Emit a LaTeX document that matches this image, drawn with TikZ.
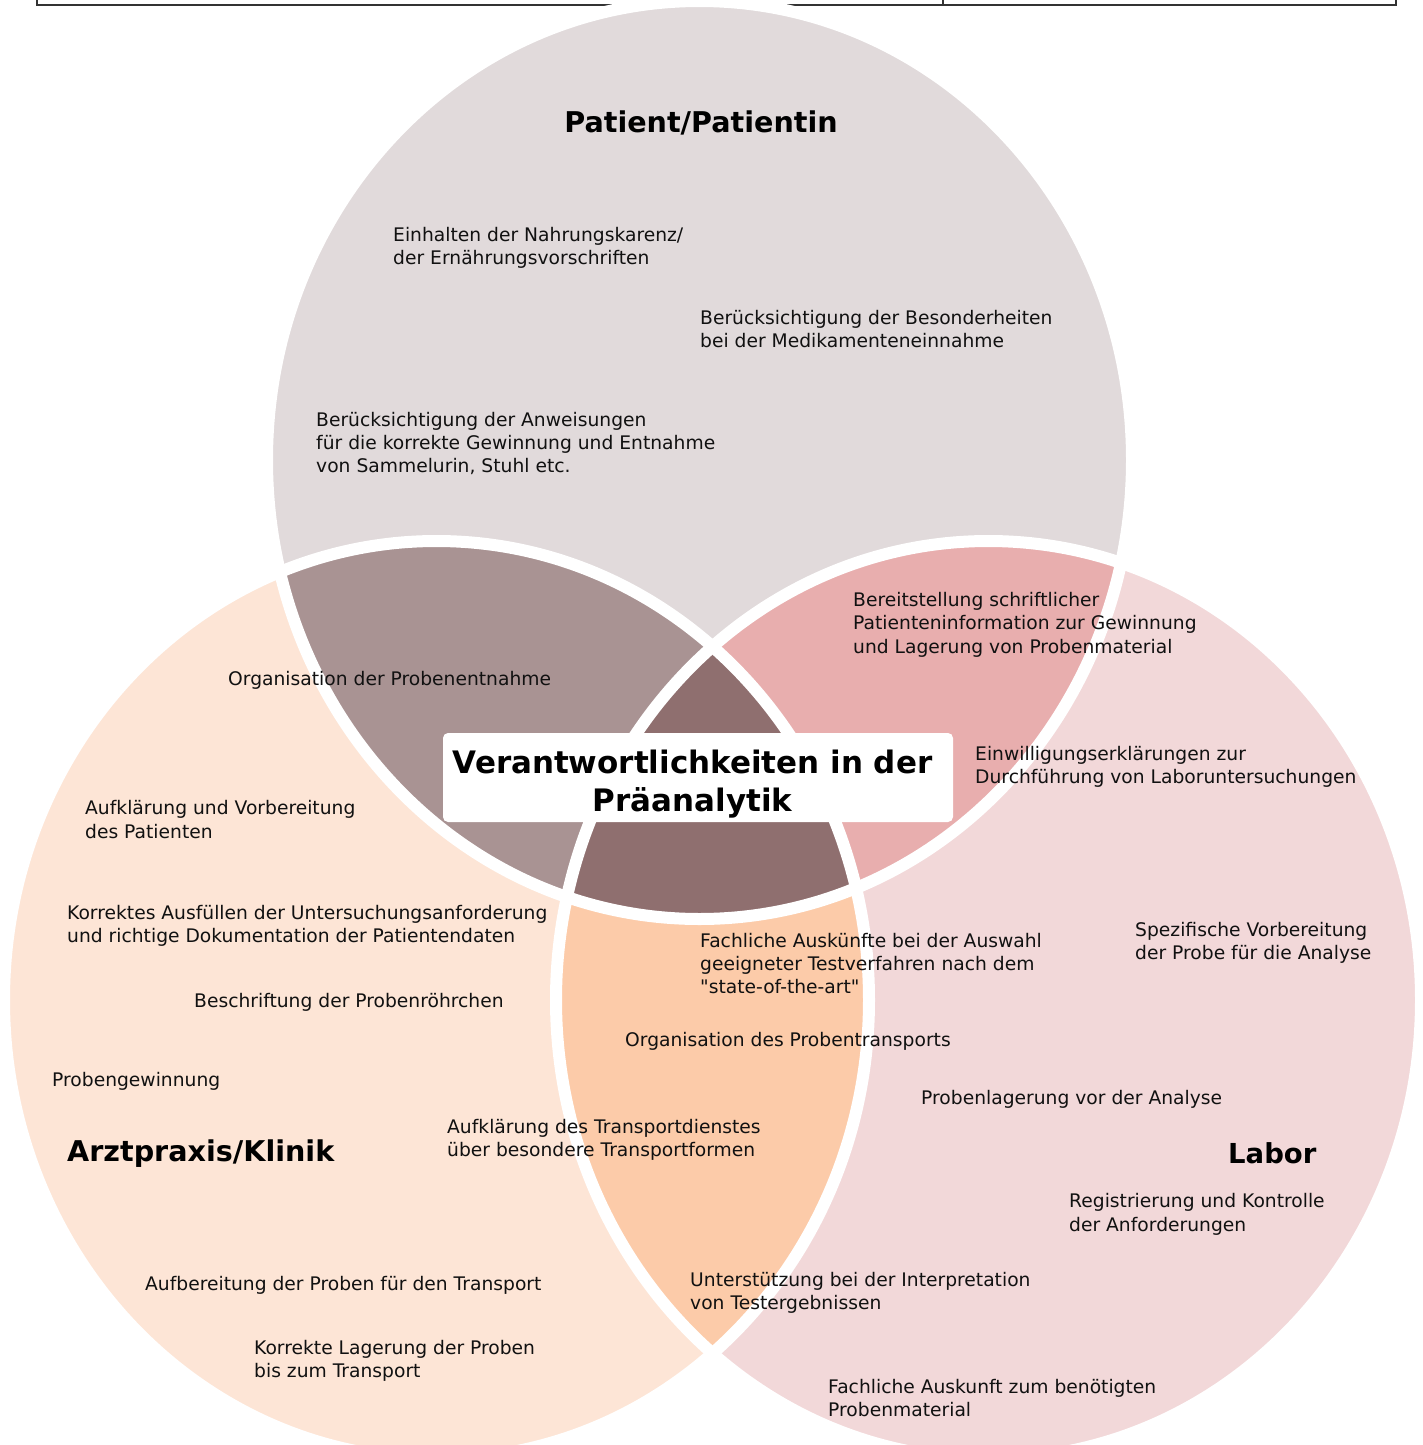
\documentclass[tikz,border=0pt]{standalone}
\usepackage{fontspec}
\setmainfont{DejaVu Sans}[Ligatures=TeXOff]
\definecolor{cT}{HTML}{E1DADB}
\definecolor{cL}{HTML}{FDE5D6}
\definecolor{cR}{HTML}{F2D8D9}
\definecolor{cTL}{HTML}{A99393}
\definecolor{cTR}{HTML}{E8AEAE}
\definecolor{cLR}{HTML}{FCCBA9}
\definecolor{cC}{HTML}{8F6F6F}
\definecolor{cTxt}{HTML}{111111}
\definecolor{cRule}{HTML}{333333}
\tikzset{
  txt/.style={anchor=west, inner sep=0pt, align=left, text=cTxt,
    font=\fontsize{18.7}{23.4}\selectfont},
  ttl/.style={inner sep=0pt, text=black, font=\fontsize{28.6}{33}\selectfont\bfseries},
  sep/.style={draw=white, line width=12pt},
}
\begin{document}
\begin{tikzpicture}[x=1pt,y=-1pt]
\useasboundingbox (0,0) rectangle (1423,1445);
\clip (0,0) rectangle (1423,1445);
\def\Et{(699.5,460) ellipse [x radius=432.5, y radius=459]}
\def\El{(436.5,1000) ellipse [x radius=432.5, y radius=459]}
\def\Er{(988.5,1000) ellipse [x radius=432.5, y radius=459]}
% table rule at the top
\draw[cRule, line width=1.8pt] (37,0) -- (37,5) -- (1396,5) -- (1396,0);
\draw[cRule, line width=1.2pt] (943,0) -- (943,5);
% circles
\fill[cT] \Et;
\fill[cL] \El;
\fill[cR] \Er;
\begin{scope}\clip \Et; \fill[cTL] \El; \end{scope}
\begin{scope}\clip \Et; \fill[cTR] \Er; \end{scope}
\begin{scope}\clip \El; \fill[cLR] \Er; \end{scope}
\begin{scope}\clip \Et; \clip \El; \fill[cC] \Er; \end{scope}
\draw[sep] \Et;
\draw[sep] \El;
\draw[sep] \Er;
% titles
\node[ttl] (tP) at (701,122.5) {Patient/Patientin};
\node[ttl, anchor=west] (tA) at (67,1154) {Arztpraxis/Klinik};
\node[ttl, anchor=west, font=\fontsize{27.5}{33}\selectfont\bfseries] (tL) at (1228,1153) {Labor};
% center box
\node[fill=white, rounded corners=5pt, minimum width=510pt, minimum height=89pt, inner sep=0pt] (box) at (698,777.5) {};
\node[inner sep=0pt, align=center, text=black, font=\fontsize{30.95}{38}\selectfont\bfseries] (boxt) at (692.5,784) {Verantwortlichkeiten in der\\Präanalytik};
% texts
\node[txt] (n1) at (393,248) {Einhalten der Nahrungskarenz/\\der Ernährungsvorschriften};
\node[txt] (n2) at (700,329) {Berücksichtigung der Besonderheiten\\bei der Medikamenteneinnahme};
\node[txt] (n3) at (316,443.5) {Berücksichtigung der Anweisungen\\für die korrekte Gewinnung und Entnahme\\von Sammelurin, Stuhl etc.};
\node[txt] (n4) at (853,624.5) {Bereitstellung schriftlicher\\Patienteninformation zur Gewinnung\\und Lagerung von Probenmaterial};
\node[txt] (n5) at (228,680) {Organisation der Probenentnahme};
\node[txt] (n6) at (975,767) {Einwilligungserklärungen zur\\Durchführung von Laboruntersuchungen};
\node[txt] (n7) at (85,819.5) {Aufklärung und Vorbereitung\\des Patienten};
\node[txt] (n8) at (67,926) {Korrektes Ausfüllen der Untersuchungsanforderung\\und richtige Dokumentation der Patientendaten};
\node[txt] (n9) at (1135,943) {Spezifische Vorbereitung\\der Probe für die Analyse};
\node[txt] (n10) at (700,963.5) {Fachliche Auskünfte bei der Auswahl\\geeigneter Testverfahren nach dem\\"state-of-the-art"};
\node[txt] (n11) at (194,1002) {Beschriftung der Probenröhrchen};
\node[txt] (n12) at (625,1041) {Organisation des Probentransports};
\node[txt] (n13) at (52,1081) {Probengewinnung};
\node[txt] (n14) at (921,1099) {Probenlagerung vor der Analyse};
\node[txt] (n15) at (447,1140) {Aufklärung des Transportdienstes\\über besondere Transportformen};
\node[txt] (n16) at (1069,1214.5) {Registrierung und Kontrolle\\der Anforderungen};
\node[txt] (n17) at (145,1285) {Aufbereitung der Proben für den Transport};
\node[txt] (n18) at (690,1293) {Unterstützung bei der Interpretation\\von Testergebnissen};
\node[txt] (n19) at (254,1361) {Korrekte Lagerung der Proben\\bis zum Transport};
\node[txt] (n20) at (828,1398) {Fachliche Auskunft zum benötigten\\Probenmaterial};
\end{tikzpicture}
\end{document}
